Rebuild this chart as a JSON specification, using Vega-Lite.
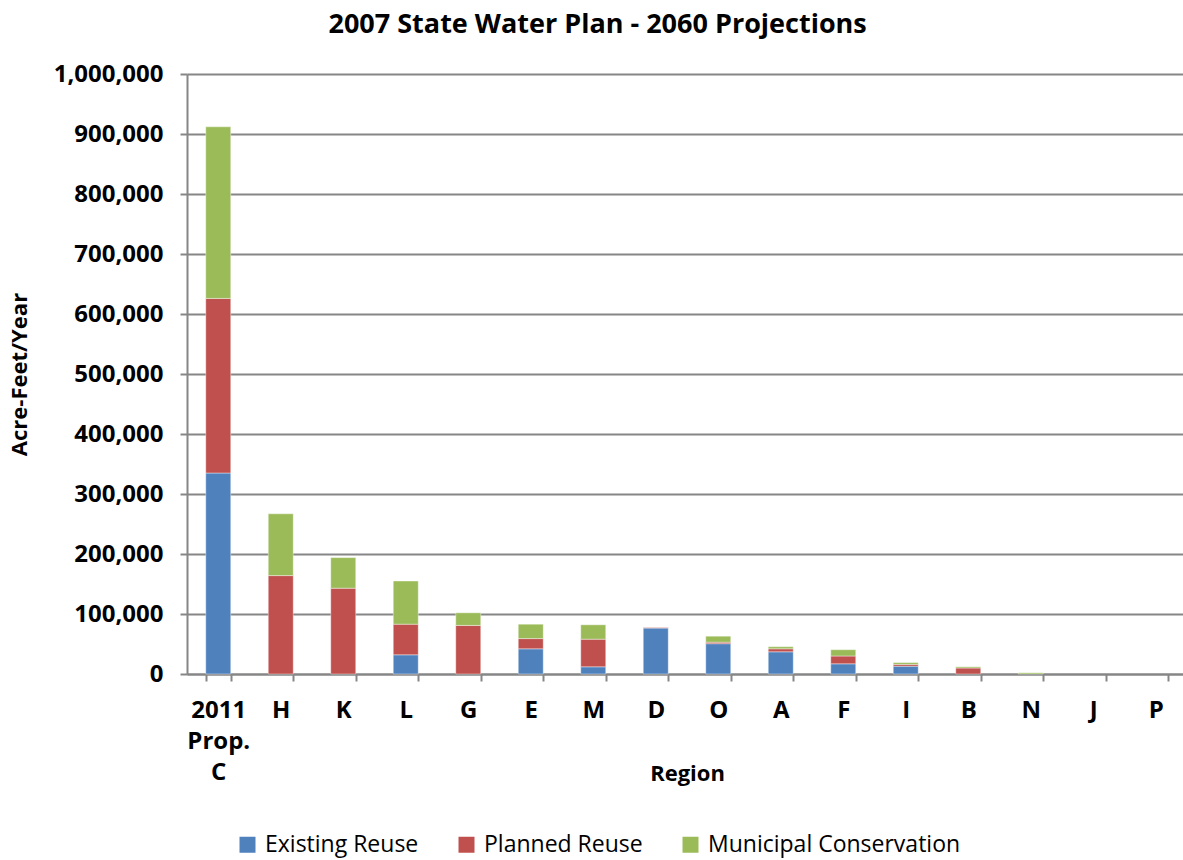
{
  "$schema": "https://vega.github.io/schema/vega-lite/v6.json",
  "autosize": "none",
  "width": 1000,
  "height": 600,
  "padding": {"left": 187, "top": 74, "right": 0, "bottom": 186},
  "background": "white",
  "title": {
    "text": "2007 State Water Plan - 2060 Projections",
    "font": "Open Sans",
    "fontSize": 27,
    "fontWeight": "bold",
    "color": "#000000",
    "anchor": "middle",
    "frame": "bounds",
    "offset": 23
  },
  "data": {
    "values": [
      {"region": "2011 Prop. C", "Existing Reuse": 335000, "Planned Reuse": 291000, "Municipal Conservation": 286000},
      {"region": "H", "Existing Reuse": 0, "Planned Reuse": 164000, "Municipal Conservation": 103000},
      {"region": "K", "Existing Reuse": 0, "Planned Reuse": 143000, "Municipal Conservation": 51000},
      {"region": "L", "Existing Reuse": 32000, "Planned Reuse": 51000, "Municipal Conservation": 72000},
      {"region": "G", "Existing Reuse": 0, "Planned Reuse": 81000, "Municipal Conservation": 21000},
      {"region": "E", "Existing Reuse": 42000, "Planned Reuse": 17000, "Municipal Conservation": 24000},
      {"region": "M", "Existing Reuse": 12000, "Planned Reuse": 46000, "Municipal Conservation": 24000},
      {"region": "D", "Existing Reuse": 76500, "Planned Reuse": 1000, "Municipal Conservation": 0},
      {"region": "O", "Existing Reuse": 50500, "Planned Reuse": 2500, "Municipal Conservation": 10000},
      {"region": "A", "Existing Reuse": 37000, "Planned Reuse": 5000, "Municipal Conservation": 3500},
      {"region": "F", "Existing Reuse": 17000, "Planned Reuse": 13000, "Municipal Conservation": 10500},
      {"region": "I", "Existing Reuse": 13000, "Planned Reuse": 3000, "Municipal Conservation": 3000},
      {"region": "B", "Existing Reuse": 0, "Planned Reuse": 10000, "Municipal Conservation": 2000},
      {"region": "N", "Existing Reuse": 0, "Planned Reuse": 0, "Municipal Conservation": 2000},
      {"region": "J", "Existing Reuse": 0, "Planned Reuse": 0, "Municipal Conservation": 0},
      {"region": "P", "Existing Reuse": 0, "Planned Reuse": 0, "Municipal Conservation": 0}
    ]
  },
  "transform": [
    {"fold": ["Existing Reuse", "Planned Reuse", "Municipal Conservation"], "as": ["series", "af"]},
    {"filter": "datum.af > 0"},
    {"calculate": "indexof(['Existing Reuse', 'Planned Reuse', 'Municipal Conservation'], datum.series)", "as": "stackOrder"}
  ],
  "mark": {"type": "bar", "stroke": "#ffffff", "strokeOpacity": 0.4, "strokeWidth": 1},
  "encoding": {
    "x": {
      "field": "region",
      "type": "nominal",
      "sort": ["2011 Prop. C", "H", "K", "L", "G", "E", "M", "D", "O", "A", "F", "I", "B", "N", "J", "P"],
      "scale": {"domain": ["2011 Prop. C", "H", "K", "L", "G", "E", "M", "D", "O", "A", "F", "I", "B", "N", "J", "P"], "paddingInner": 0.6, "paddingOuter": 0.3},
      "axis": {
        "title": "Region",
        "titleFont": "Open Sans",
        "titleFontSize": 22,
        "titleFontWeight": "bold",
        "titleColor": "#000000",
        "titlePadding": -21,
        "labelFont": "Open Sans",
        "labelFontSize": 24,
        "labelFontWeight": "bold",
        "labelColor": "#000000",
        "labelAngle": 0,
        "labelBaseline": "middle",
        "labelPadding": 29,
        "labelLineHeight": 31,
        "labelExpr": "datum.value == '2011 Prop. C' ? ['2011', 'Prop.', 'C'] : datum.value",
        "tickBand": "extent",
        "tickSize": 7,
        "tickColor": "#868686",
        "tickWidth": 2,
        "domainColor": "#868686",
        "domainWidth": 2
      }
    },
    "y": {
      "field": "af",
      "type": "quantitative",
      "stack": "zero",
      "scale": {"domain": [0, 1000000], "nice": false},
      "axis": {
        "title": "Acre-Feet/Year",
        "titleFont": "Open Sans",
        "titleFontSize": 22,
        "titleFontWeight": "bold",
        "titleColor": "#000000",
        "titlePadding": 22,
        "labelFont": "Open Sans",
        "labelFontSize": 24,
        "labelFontWeight": "bold",
        "labelColor": "#000000",
        "labelPadding": 17,
        "values": [0, 100000, 200000, 300000, 400000, 500000, 600000, 700000, 800000, 900000, 1000000],
        "format": ",d",
        "tickSize": 7,
        "tickColor": "#868686",
        "tickWidth": 2,
        "domainColor": "#868686",
        "domainWidth": 2,
        "grid": true,
        "gridColor": "#868686",
        "gridWidth": 2
      }
    },
    "color": {
      "field": "series",
      "type": "nominal",
      "scale": {
        "domain": ["Existing Reuse", "Planned Reuse", "Municipal Conservation"],
        "range": ["#4F81BD", "#C0504D", "#9BBB59"]
      },
      "legend": {
        "title": null,
        "orient": "none",
        "legendX": 49,
        "legendY": 759,
        "direction": "horizontal",
        "symbolType": "square",
        "symbolSize": 256,
        "symbolStrokeWidth": 0,
        "labelFont": "Open Sans",
        "labelFontSize": 23,
        "labelColor": "#000000",
        "labelLimit": 0,
        "labelOffset": 6,
        "columnPadding": 36
      }
    },
    "order": {"field": "stackOrder", "type": "quantitative"}
  },
  "config": {
    "view": {"stroke": null}
  }
}
